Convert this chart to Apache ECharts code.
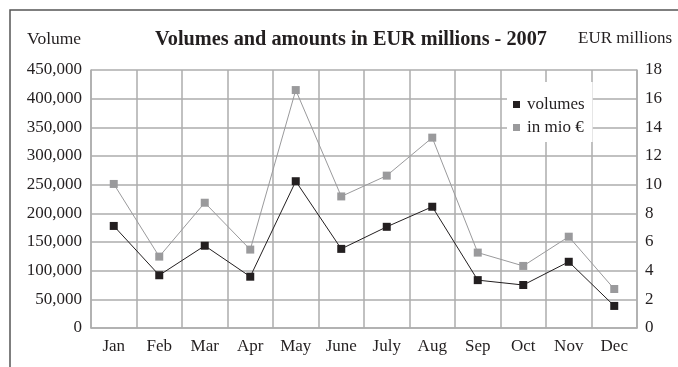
<!DOCTYPE html>
<html>
<head>
<meta charset="utf-8">
<script src="https://cdn.jsdelivr.net/npm/echarts@6/dist/echarts.min.js"></script>
<style>html,body{margin:0;padding:0;background:#fff}#c{width:678px;height:367px}</style>
</head>
<body>
<div id="c"></div>
<script>
const categories = ['Jan','Feb','Mar','Apr','May','June','July','Aug','Sep','Oct','Nov','Dec'];
const volumes = [178000, 92000, 143500, 89500, 256000, 138000, 176500, 211500, 83500, 75000, 115500, 38500];
const amounts = [10.05, 4.98, 8.74, 5.47, 16.6, 9.18, 10.63, 13.28, 5.26, 4.33, 6.37, 2.72];
const leftTicks = {min: 0, max: 450000, interval: 50000};
const rightTicks = {min: 0, max: 18, interval: 2};

const FONT = '"Liberation Serif", serif';
const TXT = '#231f20';
const chart = echarts.init(document.getElementById('c'), null, {renderer: 'canvas'});
chart.setOption({
  animation: false,
  backgroundColor: '#fff',
  textStyle: {fontFamily: FONT, color: TXT},
  title: {
    text: 'Volumes and amounts in EUR millions - 2007',
    left: 150, top: 25,
    textStyle: {fontFamily: FONT, fontSize: 20.3, fontWeight: 'bold', color: TXT}
  },
  graphic: [
    {type: 'polyline', shape: {points: [[10, 367], [10, 10], [678, 10]]}, style: {stroke: '#555', lineWidth: 1.5, fill: null}},
    {type: 'text', left: 27, top: 30, style: {text: 'Volume', font: '17.5px ' + FONT, fill: TXT}},
    {type: 'text', right: 6, top: 30, style: {text: 'EUR millions', font: '17px ' + FONT, fill: TXT}}
  ],
  legend: {
    left: 507, top: 82, orient: 'vertical',
    backgroundColor: '#fff',
    padding: [14, 8, 6, 6],
    itemWidth: 7, itemHeight: 7, itemGap: 6,
    icon: 'rect',
    textStyle: {fontFamily: FONT, fontSize: 17, color: TXT, padding: [0, 0, 0, 2]},
    data: ['volumes', 'in mio €']
  },
  grid: {left: 91, right: 41, top: 70, bottom: 39, containLabel: false},
  xAxis: {
    type: 'category', data: categories, boundaryGap: true,
    axisLine: {show: true, lineStyle: {color: '#adadad', width: 1.5}},
    axisTick: {show: false},
    splitLine: {show: true, interval: 0, lineStyle: {color: '#adadad', width: 1.5}},
    axisLabel: {fontFamily: FONT, fontSize: 17, color: TXT, margin: 10, interval: 0}
  },
  yAxis: [
    {
      type: 'value', min: leftTicks.min, max: leftTicks.max, interval: leftTicks.interval,
      axisLine: {show: true, lineStyle: {color: '#adadad', width: 1.5}},
      axisTick: {show: false},
      splitLine: {show: true, lineStyle: {color: '#adadad', width: 1.5}},
      axisLabel: {fontFamily: FONT, fontSize: 17, color: TXT, margin: 9,
        formatter: v => v.toLocaleString('en-US')}
    },
    {
      type: 'value', min: rightTicks.min, max: rightTicks.max, interval: rightTicks.interval,
      position: 'right',
      axisLine: {show: true, lineStyle: {color: '#adadad', width: 1.5}},
      axisTick: {show: false},
      splitLine: {show: false},
      axisLabel: {fontFamily: FONT, fontSize: 17, color: TXT, margin: 8}
    }
  ],
  series: [
    {
      name: 'volumes', type: 'line', yAxisIndex: 0, data: volumes,
      symbol: 'rect', symbolSize: 8,
      itemStyle: {color: '#231f20'},
      lineStyle: {color: '#231f20', width: 1}
    },
    {
      name: 'in mio €', type: 'line', yAxisIndex: 1, data: amounts,
      symbol: 'rect', symbolSize: 8,
      itemStyle: {color: '#9a9a9c'},
      lineStyle: {color: '#9a9a9c', width: 1}
    }
  ]
});
</script>
</body>
</html>
